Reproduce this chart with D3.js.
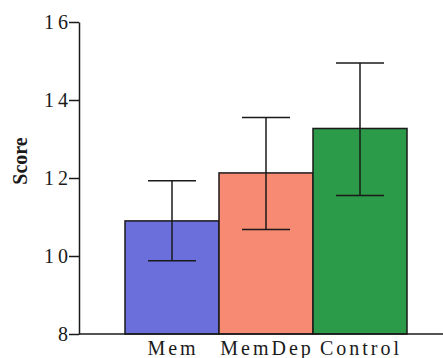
<!DOCTYPE html>
<html>
<head>
<meta charset="utf-8">
<script src="https://cdn.jsdelivr.net/npm/d3@7"></script>
<style>
  body { margin: 0; background: #fff; }
  text { font-family: "Liberation Serif", "Times New Roman", serif; }
</style>
</head>
<body>
<script>
const groups = ["Mem", "MemDep", "Control"];
const means = [10.9, 12.13, 13.27];
const lower = [9.88, 10.68, 11.55];
const upper = [11.93, 13.55, 14.95];
const barColors = ["#6b6fdb", "#f78a72", "#2b9a49"];
const yTicks = [8, 10, 12, 14, 16];

const width = 443;
const height = 358;

const svg = d3
  .select("body")
  .append("svg")
  .attr("width", width)
  .attr("height", height);

const y = d3.scaleLinear().domain([8, 16]).range([334, 22]);
const x = d3.scaleBand().domain(groups).range([125, 407]).padding(0);

// Bars ////////////////////////////////////////////////////////////////////

svg
  .append("g")
  .selectAll("rect")
  .data(groups)
  .join("rect")
  .attr("x", (d) => x(d))
  .attr("y", (d, i) => y(means[i]))
  .attr("width", x.bandwidth())
  .attr("height", (d, i) => y(8) - y(means[i]))
  .attr("fill", (d, i) => barColors[i])
  .attr("stroke", "#1a1a1a")
  .attr("stroke-width", 1.5);

// Error bars //////////////////////////////////////////////////////////////

const capHalf = 24;
const errors = svg
  .append("g")
  .attr("stroke", "#1a1a1a")
  .attr("stroke-width", 1.5)
  .selectAll("g")
  .data(groups)
  .join("g");

errors
  .append("line")
  .attr("x1", (d) => x(d) + x.bandwidth() / 2)
  .attr("x2", (d) => x(d) + x.bandwidth() / 2)
  .attr("y1", (d, i) => y(lower[i]))
  .attr("y2", (d, i) => y(upper[i]));

errors
  .append("line")
  .attr("x1", (d) => x(d) + x.bandwidth() / 2 - capHalf)
  .attr("x2", (d) => x(d) + x.bandwidth() / 2 + capHalf)
  .attr("y1", (d, i) => y(upper[i]))
  .attr("y2", (d, i) => y(upper[i]));

errors
  .append("line")
  .attr("x1", (d) => x(d) + x.bandwidth() / 2 - capHalf)
  .attr("x2", (d) => x(d) + x.bandwidth() / 2 + capHalf)
  .attr("y1", (d, i) => y(lower[i]))
  .attr("y2", (d, i) => y(lower[i]));

// Axes ////////////////////////////////////////////////////////////////////

const yAxis = svg
  .append("g")
  .attr("transform", "translate(79, 0)")
  .call(d3.axisLeft(y).tickValues(yTicks).tickSize(10).tickSizeOuter(0).tickPadding(3));

yAxis.select(".domain").attr("stroke", "#1a1a1a").attr("stroke-width", 1.5);
yAxis.selectAll(".tick line").attr("stroke", "#1a1a1a").attr("stroke-width", 1.5);
yAxis
  .selectAll(".tick text")
  .attr("font-family", "Liberation Serif, serif")
  .attr("font-size", 20)
  .attr("letter-spacing", 4)
  .attr("fill", "#1a1a1a")
  .attr("dx", 6);

svg
  .append("line")
  .attr("x1", 79)
  .attr("x2", width)
  .attr("y1", y(8))
  .attr("y2", y(8))
  .attr("stroke", "#1a1a1a")
  .attr("stroke-width", 1.5);

// Labels //////////////////////////////////////////////////////////////////

svg
  .append("g")
  .selectAll("text")
  .data(groups)
  .join("text")
  .attr("x", (d) => x(d) + x.bandwidth() / 2 + 1)
  .attr("y", 355)
  .attr("text-anchor", "middle")
  .attr("font-size", 20)
  .attr("letter-spacing", 3)
  .attr("fill", "#1a1a1a")
  .text((d) => d);

svg
  .append("text")
  .attr("transform", "translate(27, 161) rotate(-90)")
  .attr("text-anchor", "middle")
  .attr("font-size", 20)
  .attr("font-weight", "bold")
  .attr("fill", "#1a1a1a")
  .text("Score");
</script>
</body>
</html>
